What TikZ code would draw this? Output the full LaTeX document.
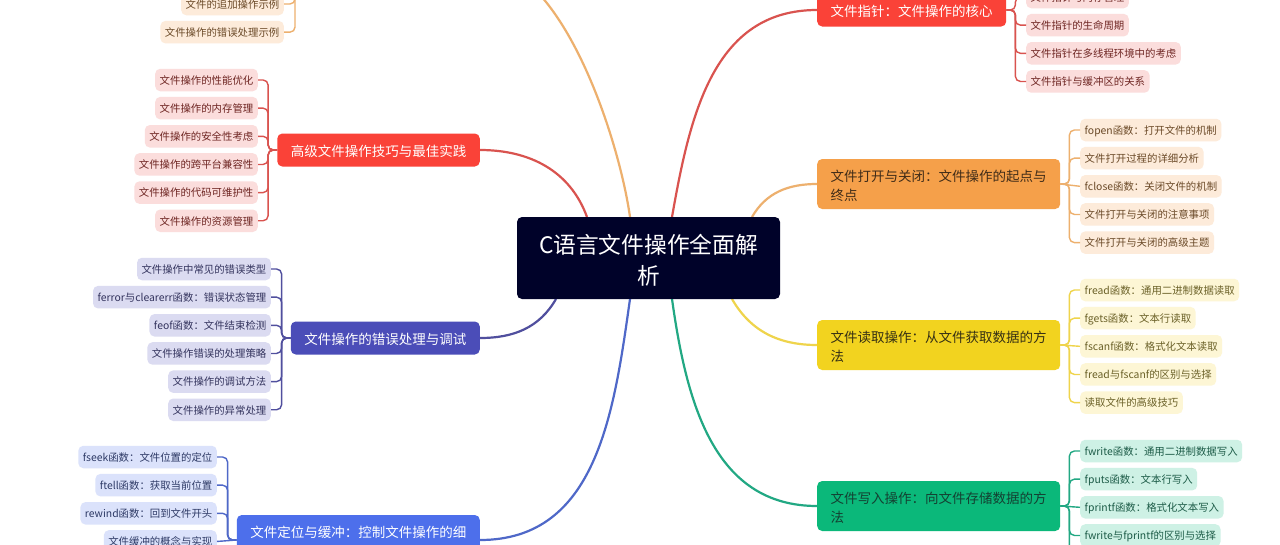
\documentclass[tikz,border=0pt]{standalone}
\usepackage{fontspec}
\setmainfont{Noto Sans CJK SC}
\usetikzlibrary{positioning}
\definecolor{hubfill}{HTML}{000229}
\definecolor{redfill}{HTML}{FA4238}
\definecolor{redline}{HTML}{D9534F}
\definecolor{redleaf}{HTML}{FBDDDC}
\definecolor{redtext}{HTML}{6E2522}
\definecolor{orangefill}{HTML}{F5A04A}
\definecolor{orangeline}{HTML}{EDB06E}
\definecolor{orangeleaf}{HTML}{FDEBDA}
\definecolor{orangetext}{HTML}{6B4A28}
\definecolor{yellowfill}{HTML}{F2D31F}
\definecolor{yellowline}{HTML}{EFD44C}
\definecolor{yellowleaf}{HTML}{FDF6D5}
\definecolor{yellowtext}{HTML}{6B6128}
\definecolor{greenfill}{HTML}{0BB87A}
\definecolor{greenline}{HTML}{22A883}
\definecolor{greenleaf}{HTML}{CEF1E5}
\definecolor{greentext}{HTML}{1D5C48}
\definecolor{bluefill}{HTML}{4D6FEB}
\definecolor{blueline}{HTML}{4F68C8}
\definecolor{blueleaf}{HTML}{DBE2FB}
\definecolor{bluetext}{HTML}{2E3A66}
\definecolor{purplefill}{HTML}{4B4DB8}
\definecolor{purpleline}{HTML}{504F9E}
\definecolor{purpleleaf}{HTML}{DBDBF1}
\definecolor{purpletext}{HTML}{34345E}
\tikzstyle{hub} = [rectangle, rounded corners=5pt,
minimum width=263pt,
minimum height=82pt,
align=center,
font=\fontsize{22.7}{31.5}\selectfont,
text=white,
fill=hubfill]
\tikzstyle{branch} = [rectangle, rounded corners=5pt,
minimum height=33pt,
inner xsep=13.5pt,
align=left,
font=\fontsize{13.5}{19.5}\selectfont]
\tikzstyle{longbranch} = [branch, minimum width=243pt, minimum height=50pt]
\tikzstyle{leaf} = [rectangle, rounded corners=5pt,
minimum height=22.5pt,
inner xsep=4.5pt,
inner ysep=0pt,
text height=10pt,
text depth=1.5pt,
font=\fontsize{10.4}{12}\selectfont]
\tikzstyle{curve} = [line width=2.2pt]
\tikzstyle{bracket} = [line width=1.4pt, rounded corners=5pt]

\begin{document}
\begin{tikzpicture}[x=1pt,y=1pt,node distance=5.25pt and 0pt]
        \path [use as bounding box] (0,0) rectangle (1280,-544);
        \clip (0,0) rectangle (1280,-544);
        \fill [white] (0,0) rectangle (1280,-544);
        % branches
        \node (pointer) [branch, anchor=west, fill=redfill, text=white] at (817,-10) {\rule{0pt}{15pt}文件指针：文件操作的核心};
        \node (open) [longbranch, anchor=west, fill=orangefill, text=orangetext!60!black] at (817,-184) {\rule{0pt}{15pt}文件打开与关闭：文件操作的起点与\\终点};
        \node (read) [longbranch, anchor=west, fill=yellowfill, text=yellowtext!50!black] at (817,-345) {\rule{0pt}{15pt}文件读取操作：从文件获取数据的方\\法};
        \node (write) [longbranch, anchor=west, fill=greenfill, text=greentext!70!black] at (817,-506) {\rule{0pt}{15pt}文件写入操作：向文件存储数据的方\\法};
        \node (advanced) [branch, anchor=east, fill=redfill, text=white] at (480,-150) {\rule{0pt}{15pt}高级文件操作技巧与最佳实践};
        \node (errors) [branch, anchor=east, fill=purplefill, text=white] at (480,-338) {\rule{0pt}{15pt}文件操作的错误处理与调试};
        \node (seek) [longbranch, anchor=east, fill=bluefill, text=white] at (480,-540) {\rule{0pt}{15pt}文件定位与缓冲：控制文件操作的细\\~};
        \coordinate (examples) at (480,38);
        \coordinate (examplestem) at (295,20);
        % curves from the centre
        \draw [curve, redline] (672,-217) to [out=80,in=180,looseness=1.05] (pointer.west);
        \draw [curve, orangeline] (752,-217) to [out=60,in=180] (open.west);
        \draw [curve, yellowline] (732,-299) to [out=-60,in=180] (read.west);
        \draw [curve, greenline] (672,-299) to [out=-82,in=180,looseness=1.05] (write.west);
        \draw [curve, redline] (587,-217) to [out=110,in=0] (advanced.east);
        \draw [curve, orangeline] (630,-217) to [out=98,in=0,looseness=0.7] (examples);
        \draw [curve, purpleline] (556,-299) to [out=-120,in=0] (errors.east);
        \draw [curve, blueline] (630,-299) to [out=-98,in=0,looseness=1.05] (seek.east);
        \node (root) [hub] at (648.5,-258) {\rule{0pt}{24pt}C语言文件操作全面解\\析};
        % leaves right
        \node (p1) [leaf, anchor=west, fill=redleaf, text=redtext] at (1026,3) {文件指针与内存管理};
        \node (p2) [leaf, below right=of p1.south west, fill=redleaf, text=redtext] {文件指针的生命周期};
        \node (p3) [leaf, below right=of p2.south west, fill=redleaf, text=redtext] {文件指针在多线程环境中的考虑};
        \node (p4) [leaf, below right=of p3.south west, fill=redleaf, text=redtext] {文件指针与缓冲区的关系};
        \node (o1) [leaf, anchor=west, fill=orangeleaf, text=orangetext] at (1080,-130) {fopen函数：打开文件的机制};
        \node (o2) [leaf, below right=of o1.south west, fill=orangeleaf, text=orangetext] {文件打开过程的详细分析};
        \node (o3) [leaf, below right=of o2.south west, fill=orangeleaf, text=orangetext] {fclose函数：关闭文件的机制};
        \node (o4) [leaf, below right=of o3.south west, fill=orangeleaf, text=orangetext] {文件打开与关闭的注意事项};
        \node (o5) [leaf, below right=of o4.south west, fill=orangeleaf, text=orangetext] {文件打开与关闭的高级主题};
        \node (r1) [leaf, anchor=west, fill=yellowleaf, text=yellowtext] at (1080,-290) {fread函数：通用二进制数据读取};
        \node (r2) [leaf, below right=of r1.south west, fill=yellowleaf, text=yellowtext] {fgets函数：文本行读取};
        \node (r3) [leaf, below right=of r2.south west, fill=yellowleaf, text=yellowtext] {fscanf函数：格式化文本读取};
        \node (r4) [leaf, below right=of r3.south west, fill=yellowleaf, text=yellowtext] {fread与fscanf的区别与选择};
        \node (r5) [leaf, below right=of r4.south west, fill=yellowleaf, text=yellowtext] {读取文件的高级技巧};
        \node (w1) [leaf, anchor=west, fill=greenleaf, text=greentext] at (1080,-451) {fwrite函数：通用二进制数据写入};
        \node (w2) [leaf, below right=of w1.south west, fill=greenleaf, text=greentext] {fputs函数：文本行写入};
        \node (w3) [leaf, below right=of w2.south west, fill=greenleaf, text=greentext] {fprintf函数：格式化文本写入};
        \node (w4) [leaf, below right=of w3.south west, fill=greenleaf, text=greentext] {fwrite与fprintf的区别与选择};
        \coordinate (w5) at (1080,-562);
        % leaves left
        \node (e1) [leaf, anchor=east, fill=orangeleaf, text=orangetext] at (284,-4) {文件的追加操作示例};
        \node (e2) [leaf, below left=of e1.south east, fill=orangeleaf, text=orangetext] {文件操作的错误处理示例};
        \node (a1) [leaf, anchor=east, fill=redleaf, text=redtext] at (258,-80) {文件操作的性能优化};
        \node (a2) [leaf, below left=of a1.south east, fill=redleaf, text=redtext] {文件操作的内存管理};
        \node (a3) [leaf, below left=of a2.south east, fill=redleaf, text=redtext] {文件操作的安全性考虑};
        \node (a4) [leaf, below left=of a3.south east, fill=redleaf, text=redtext] {文件操作的跨平台兼容性};
        \node (a5) [leaf, below left=of a4.south east, fill=redleaf, text=redtext] {文件操作的代码可维护性};
        \node (a6) [leaf, below left=of a5.south east, fill=redleaf, text=redtext] {文件操作的资源管理};
        \node (d1) [leaf, anchor=east, fill=purpleleaf, text=purpletext] at (271,-269) {文件操作中常见的错误类型};
        \node (d2) [leaf, below left=of d1.south east, fill=purpleleaf, text=purpletext] {ferror与clearerr函数：错误状态管理};
        \node (d3) [leaf, below left=of d2.south east, fill=purpleleaf, text=purpletext] {feof函数：文件结束检测};
        \node (d4) [leaf, below left=of d3.south east, fill=purpleleaf, text=purpletext] {文件操作错误的处理策略};
        \node (d5) [leaf, below left=of d4.south east, fill=purpleleaf, text=purpletext] {文件操作的调试方法};
        \node (d6) [leaf, below left=of d5.south east, fill=purpleleaf, text=purpletext] {文件操作的异常处理};
        \node (s1) [leaf, anchor=east, fill=blueleaf, text=bluetext] at (217,-457) {fseek函数：文件位置的定位};
        \node (s2) [leaf, below left=of s1.south east, fill=blueleaf, text=bluetext] {ftell函数：获取当前位置};
        \node (s3) [leaf, below left=of s2.south east, fill=blueleaf, text=bluetext] {rewind函数：回到文件开头};
        \node (s4) [leaf, below left=of s3.south east, fill=blueleaf, text=bluetext] {文件缓冲的概念与实现};
        % brackets
        \draw [bracket, redline] (pointer.east) -- ++(9,0) |- (p1.west);
        \draw [bracket, redline] (pointer.east) -- ++(9,0) |- (p2.west);
        \draw [bracket, redline] (pointer.east) -- ++(9,0) |- (p3.west);
        \draw [bracket, redline] (pointer.east) -- ++(9,0) |- (p4.west);
        \draw [bracket, orangeline] (open.east) -- ++(9,0) |- (o1.west);
        \draw [bracket, orangeline] (open.east) -- ++(9,0) |- (o2.west);
        \draw [bracket, orangeline] (open.east) -- (o3.west);
        \draw [bracket, orangeline] (open.east) -- ++(9,0) |- (o4.west);
        \draw [bracket, orangeline] (open.east) -- ++(9,0) |- (o5.west);
        \draw [bracket, yellowline] (read.east) -- ++(9,0) |- (r1.west);
        \draw [bracket, yellowline] (read.east) -- ++(9,0) |- (r2.west);
        \draw [bracket, yellowline] (read.east) -- (r3.west);
        \draw [bracket, yellowline] (read.east) -- ++(9,0) |- (r4.west);
        \draw [bracket, yellowline] (read.east) -- ++(9,0) |- (r5.west);
        \draw [bracket, greenline] (write.east) -- ++(9,0) |- (w1.west);
        \draw [bracket, greenline] (write.east) -- ++(9,0) |- (w2.west);
        \draw [bracket, greenline] (write.east) -- (w3.west);
        \draw [bracket, greenline] (write.east) -- ++(9,0) |- (w4.west);
        \draw [bracket, greenline] (write.east) -- ++(9,0) |- (w5);
        \draw [bracket, orangeline] (examplestem) |- (e1.east);
        \draw [bracket, orangeline] (examplestem) |- (e2.east);
        \draw [bracket, redline] (advanced.west) -- ++(-9,0) |- (a1.east);
        \draw [bracket, redline] (advanced.west) -- ++(-9,0) |- (a2.east);
        \draw [bracket, redline] (advanced.west) -- ++(-9,0) |- (a3.east);
        \draw [bracket, redline] (advanced.west) -- ++(-9,0) |- (a4.east);
        \draw [bracket, redline] (advanced.west) -- ++(-9,0) |- (a5.east);
        \draw [bracket, redline] (advanced.west) -- ++(-9,0) |- (a6.east);
        \draw [bracket, purpleline] (errors.west) -- ++(-9,0) |- (d1.east);
        \draw [bracket, purpleline] (errors.west) -- ++(-9,0) |- (d2.east);
        \draw [bracket, purpleline] (errors.west) -- ++(-9,0) |- (d3.east);
        \draw [bracket, purpleline] (errors.west) -- ++(-9,0) |- (d4.east);
        \draw [bracket, purpleline] (errors.west) -- ++(-9,0) |- (d5.east);
        \draw [bracket, purpleline] (errors.west) -- ++(-9,0) |- (d6.east);
        \draw [bracket, blueline] (seek.west) -- ++(-9,0) |- (s1.east);
        \draw [bracket, blueline] (seek.west) -- ++(-9,0) |- (s2.east);
        \draw [bracket, blueline] (seek.west) -- ++(-9,0) |- (s3.east);
        \draw [bracket, blueline] (seek.west) -- (s4.east);
    \end{tikzpicture}
\end{document}
